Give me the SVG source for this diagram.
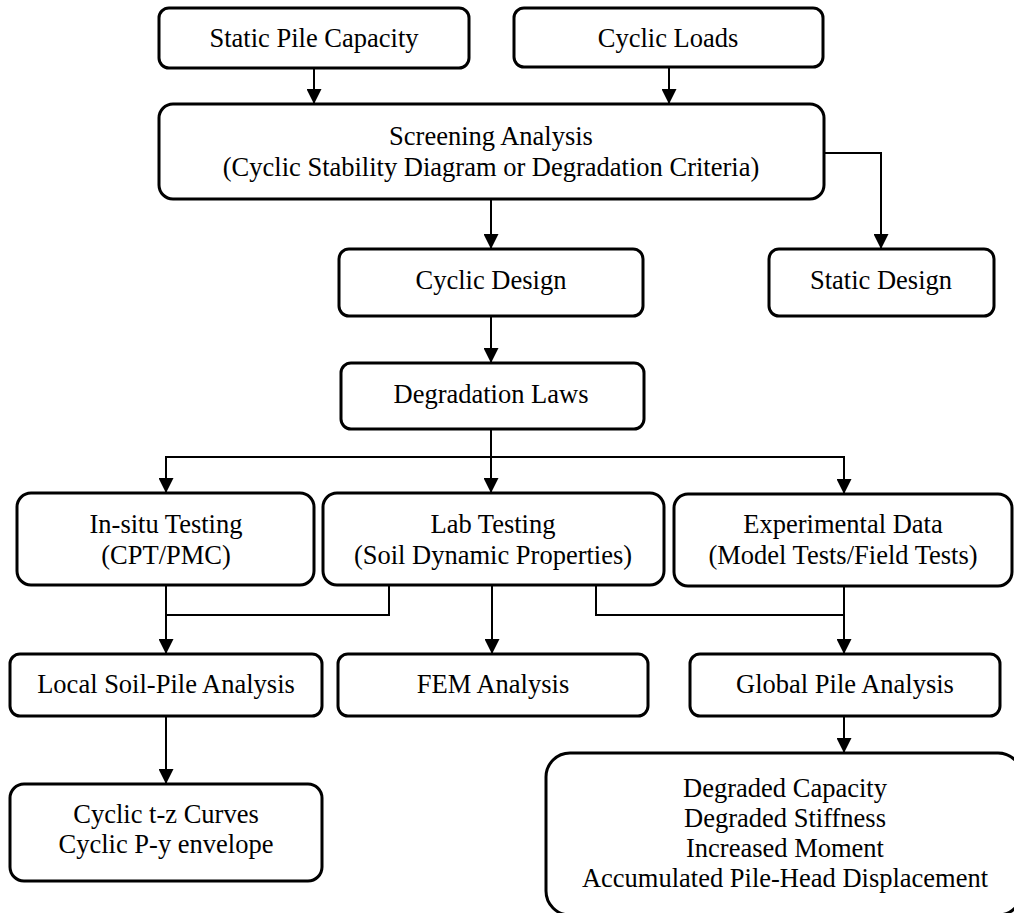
<svg xmlns="http://www.w3.org/2000/svg" width="1014" height="913" viewBox="0 0 1014 913">
  <style>
    .box { fill: #ffffff; stroke: #000000; stroke-width: 3; }
    .lbl { font-family: "Liberation Serif", "Times New Roman", serif; font-size: 26.5px; fill: #000000; text-anchor: middle; }
    .wire { fill: none; stroke: #000000; stroke-width: 2; }
    .arrow { fill: none; stroke: #000000; stroke-width: 2; marker-end: url(#head); }
  </style>
  <defs>
    <marker id="head" markerUnits="userSpaceOnUse" markerWidth="15" markerHeight="15" viewBox="0 0 15 15" refX="15" refY="7.5" orient="auto">
      <path d="M0,0 L15,7.5 L0,15 z" fill="#000000"/>
    </marker>
  </defs>
  <rect width="1014" height="913" fill="#ffffff"/>

  <g id="connectors">
    <path class="arrow" d="M314,68 V104"/>
    <path class="arrow" d="M669,67 V104"/>
    <path class="arrow" d="M491,199 V249"/>
    <path class="arrow" d="M824,153 H881 V249"/>
    <path class="arrow" d="M491,316 V363"/>
    <path class="arrow" d="M491,429 V493"/>
    <path class="arrow" d="M491,457 H166 V493"/>
    <path class="arrow" d="M491,457 H844 V494"/>
    <path class="arrow" d="M166,585 V654"/>
    <path class="wire" d="M389,585 V615 H166"/>
    <path class="arrow" d="M492,585 V654"/>
    <path class="wire" d="M596,585 V615 H844"/>
    <path class="arrow" d="M844,586 V654"/>
    <path class="arrow" d="M166,716 V784"/>
    <path class="arrow" d="M844,716 V753"/>
  </g>

  <g id="static-pile-capacity">
    <rect class="box" x="159" y="8" width="310" height="60" rx="10"/>
    <text class="lbl" x="314" y="47">Static Pile Capacity</text>
  </g>
  <g id="cyclic-loads">
    <rect class="box" x="514" y="8" width="309" height="59" rx="10"/>
    <text class="lbl" x="668" y="47">Cyclic Loads</text>
  </g>
  <g id="screening-analysis">
    <rect class="box" x="159" y="104" width="665" height="95" rx="14"/>
    <text class="lbl" x="491" y="145">Screening Analysis</text>
    <text class="lbl" x="491" y="176">(Cyclic Stability Diagram or Degradation Criteria)</text>
  </g>
  <g id="cyclic-design">
    <rect class="box" x="339" y="249" width="304" height="67" rx="10"/>
    <text class="lbl" x="491" y="289">Cyclic Design</text>
  </g>
  <g id="static-design">
    <rect class="box" x="769" y="249" width="225" height="67" rx="10"/>
    <text class="lbl" x="881" y="289">Static Design</text>
  </g>
  <g id="degradation-laws">
    <rect class="box" x="341" y="363" width="303" height="66" rx="10"/>
    <text class="lbl" x="491" y="403">Degradation Laws</text>
  </g>
  <g id="in-situ-testing">
    <rect class="box" x="17" y="493" width="297" height="92" rx="14"/>
    <text class="lbl" x="166" y="533">In-situ Testing</text>
    <text class="lbl" x="166" y="564">(CPT/PMC)</text>
  </g>
  <g id="lab-testing">
    <rect class="box" x="323" y="493" width="341" height="92" rx="14"/>
    <text class="lbl" x="493" y="533">Lab Testing</text>
    <text class="lbl" x="493" y="564">(Soil Dynamic Properties)</text>
  </g>
  <g id="experimental-data">
    <rect class="box" x="674" y="494" width="338" height="92" rx="14"/>
    <text class="lbl" x="843" y="533">Experimental Data</text>
    <text class="lbl" x="843" y="564">(Model Tests/Field Tests)</text>
  </g>
  <g id="local-soil-pile-analysis">
    <rect class="box" x="10" y="654" width="312" height="62" rx="10"/>
    <text class="lbl" x="166" y="693">Local Soil-Pile Analysis</text>
  </g>
  <g id="fem-analysis">
    <rect class="box" x="338" y="654" width="310" height="62" rx="10"/>
    <text class="lbl" x="493" y="693">FEM Analysis</text>
  </g>
  <g id="global-pile-analysis">
    <rect class="box" x="690" y="654" width="310" height="62" rx="10"/>
    <text class="lbl" x="845" y="693">Global Pile Analysis</text>
  </g>
  <g id="cyclic-curves">
    <rect class="box" x="10" y="784" width="312" height="97" rx="14"/>
    <text class="lbl" x="166" y="823">Cyclic t-z Curves</text>
    <text class="lbl" x="166" y="853">Cyclic P-y envelope</text>
  </g>
  <g id="degraded-results">
    <rect class="box" x="546" y="753" width="476" height="162" rx="24"/>
    <text class="lbl" x="785" y="797">Degraded Capacity</text>
    <text class="lbl" x="785" y="827">Degraded Stiffness</text>
    <text class="lbl" x="785" y="857">Increased Moment</text>
    <text class="lbl" x="785" y="887">Accumulated Pile-Head Displacement</text>
  </g>
</svg>
